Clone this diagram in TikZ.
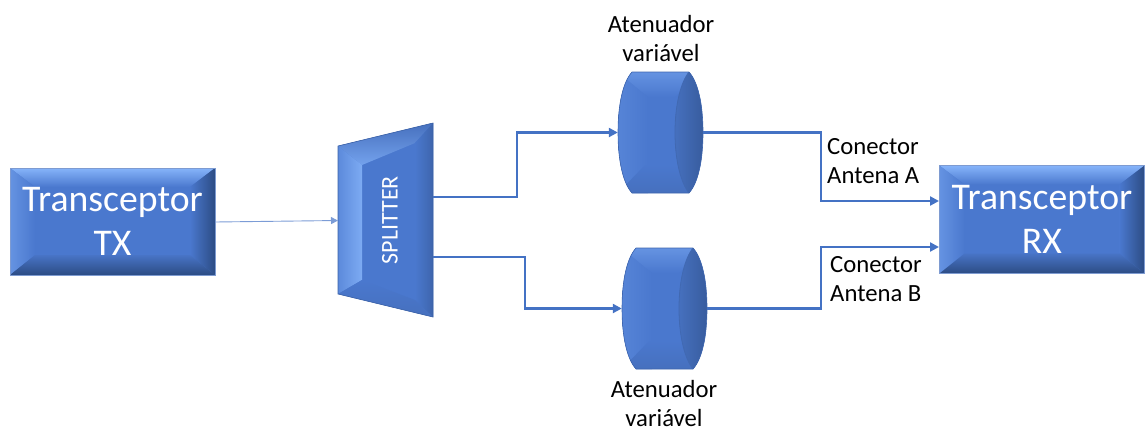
\documentclass[tikz,border=0pt]{standalone}
\usepackage{fontspec}
\setmainfont{Carlito}
\usetikzlibrary{arrows.meta}
\definecolor{basebl}{HTML}{4A78CE}
\definecolor{lightbl}{HTML}{86B4FA}
\definecolor{midbl}{HTML}{4670BE}
\definecolor{darkbl}{HTML}{2C4C84}
\definecolor{linebl}{HTML}{4472C4}
\tikzset{
  wire/.style={draw=linebl,line width=2.5pt,-{Triangle[length=9pt,width=9pt]}},
  lbl/.style={font=\fontsize{24.7}{29}\selectfont,align=center,inner sep=0pt,text=black},
  lbll/.style={lbl,align=left,anchor=west},
  bevelbox/.style={
    inner sep=0pt,text=white,align=center,draw=midbl!70!white,line width=.6pt,
    font=\fontsize{37.7}{44}\selectfont,
    path picture={
      \coordinate (nw) at (path picture bounding box.north west);
      \coordinate (se) at (path picture bounding box.south east);
      \coordinate (ne) at (path picture bounding box.north east);
      \coordinate (sw) at (path picture bounding box.south west);
      \coordinate (inw) at ([shift={(25pt,-19pt)}]nw);
      \coordinate (ine) at ([shift={(-25pt,-19pt)}]ne);
      \coordinate (ise) at ([shift={(-25pt,20pt)}]se);
      \coordinate (isw) at ([shift={(25pt,20pt)}]sw);
      \fill[basebl] (nw) rectangle (se);
      \shade[bottom color=basebl,top color=lightbl] (nw) -- (ne) -- (ine) -- (inw) -- cycle;
      \shade[left color=lightbl!45!basebl,right color=basebl] (nw) -- (inw) -- (isw) -- (sw) -- cycle;
      \shade[left color=basebl,right color=darkbl] (ne) -- (ine) -- (ise) -- (se) -- cycle;
      \shade[top color=basebl!50!midbl,bottom color=darkbl] (sw) -- (isw) -- (ise) -- (se) -- cycle;
    }},
}
\newcommand{\attpath}{(14,0) .. controls (5,10) and (0,32) .. (0,60.5) .. controls (0,89) and (5,111) .. (14,121)
        -- (71,121) .. controls (80,111) and (85,89) .. (85,60.5) .. controls (85,32) and (80,10) .. (71,0) -- cycle}
\newcommand{\attshape}[3]{%
  \node[inner sep=0pt,minimum width=85pt,minimum height=121pt] (#1) at (#2+42.5,#3+60.5) {};
  \begin{scope}[shift={(#2,#3)}]
    \begin{scope}
      \clip \attpath;
      \fill[basebl] (0,0) rectangle (85,121);
      \shade[left color=lightbl!20!basebl,right color=basebl] (0,0) rectangle (30,121);
      \shade[top color=lightbl!45!basebl,bottom color=basebl] (0,0) -- (85,0) -- (57,25) -- (30,25) -- cycle;
      \shade[top color=basebl,bottom color=midbl] (0,121) -- (85,121) -- (57,93) -- (27,93) -- cycle;
      \shade[left color=midbl,right color=midbl!45!darkbl]
        (71,0) .. controls (63,10) and (57,32) .. (57,60.5) .. controls (57,89) and (63,111) .. (71,121)
        -- (85,121) -- (85,0) -- cycle;
      \draw[midbl!80!darkbl,line width=.8pt]
        (71,0) .. controls (63,10) and (57,32) .. (57,60.5) .. controls (57,89) and (63,111) .. (71,121);
    \end{scope}
    \draw[midbl!70!darkbl,line width=.6pt] \attpath;
  \end{scope}%
}
\begin{document}
\begin{tikzpicture}[x=1pt,y=-1pt]
\useasboundingbox (0,0) rectangle (1145,432);
\node[bevelbox,minimum width=205pt,minimum height=107pt] (tx) at (112.5,221.5) {\raisebox{-2pt}{Transceptor}\\\raisebox{-2pt}{TX}};
\node[bevelbox,minimum width=205pt,minimum height=108pt] (rx) at (1042,219.5) {\raisebox{-2pt}{Transceptor}\\\raisebox{-2pt}{RX}};
% splitter
\node[inner sep=0pt,minimum width=95pt,minimum height=194pt] (sp) at (385.5,220) {};
\fill[basebl] (338,146) -- (433,123) -- (433,317) -- (338,294) -- cycle;
\shade[top color=midbl,bottom color=lightbl!70!basebl] (338,146) -- (433,123) -- (415,143) -- (362,165) -- cycle;
\shade[left color=lightbl!30!basebl,right color=lightbl!85!basebl] (338,146) -- (362,165) -- (362,280) -- (338,294) -- cycle;
\shade[left color=basebl,right color=midbl!70!darkbl] (433,123) -- (415,143) -- (415,300) -- (433,317) -- cycle;
\shade[top color=basebl,bottom color=midbl] (338,294) -- (362,280) -- (415,300) -- (433,317) -- cycle;
\draw[midbl!60!darkbl,line width=.6pt] (338,146) -- (433,123) -- (433,317) -- (338,294) -- cycle;
\node[rotate=90,text=white,inner sep=0pt,font=\fontsize{24}{28}\selectfont] (splbl) at (390,220) {SPLITTER};
% attenuators
\attshape{atta}{618}{72}
\attshape{attb}{622}{248}
% labels
\node[lbl] (la) at (661,38.5) {Atenuador\\variável};
\node[lbl] (lb) at (664,403.5) {Atenuador\\variável};
\node[lbll] (ca) at (827,161.5) {Conector\\Antena A};
\node[lbll] (cb) at (830,279.5) {Conector\\Antena B};
% connection helpers
\coordinate (txout) at (215,222);
\coordinate (spin) at (338,220.5);
\coordinate (spa) at (433,197);
\coordinate (spb) at (433,257);
\coordinate (ba) at (517,132.5);
\coordinate (bb) at (525,308.5);
\coordinate (ra) at (821,132.5);
\coordinate (rb) at (821,308.5);
\coordinate (rxa) at (939,201);
\coordinate (rxb) at (939,247);
% connectors
\draw[draw=linebl!70!white,line width=.9pt,-{Triangle[length=7pt,width=7pt]}] (txout) -- (spin);
\draw[wire] (spa) -| (ba) -- (atta.west);
\draw[wire] (spb) -| (bb) -- (attb.west);
\draw[wire] (atta.east) -- (ra) |- (rxa);
\draw[wire] (attb.east) -- (rb) |- (rxb);
\end{tikzpicture}
\end{document}
